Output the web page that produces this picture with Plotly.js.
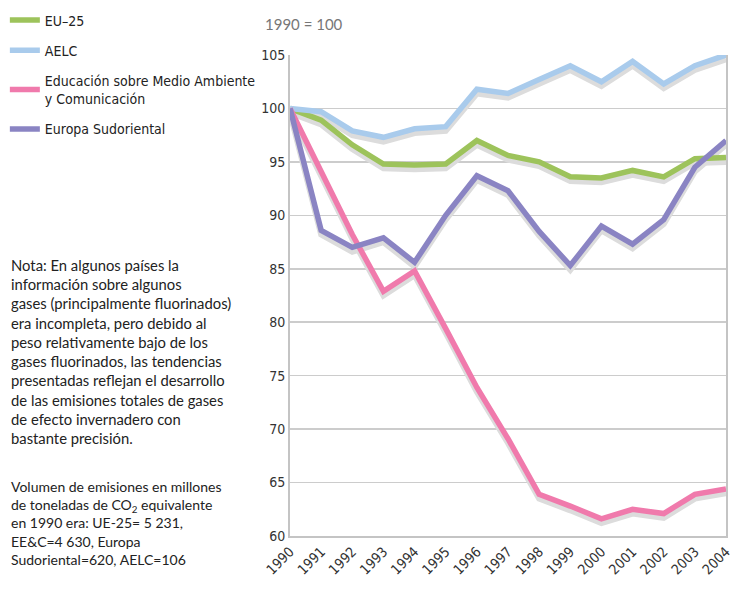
<!DOCTYPE html>
<html><head><meta charset="utf-8">
<script src="https://cdn.plot.ly/plotly-3.0.1.min.js"></script>
<style>body{margin:0;background:#fff}#chart{width:730px;height:591px}</style>
</head><body><div id="chart"></div>
<script>
const years = ['1990','1991','1992','1993','1994','1995','1996','1997','1998','1999','2000','2001','2002','2003','2004'];
const eu25 = [100, 98.9, 96.6, 94.8, 94.7, 94.8, 97.0, 95.6, 95.0, 93.6, 93.5, 94.2, 93.6, 95.3, 95.4];
const aelc = [100, 99.7, 97.9, 97.3, 98.1, 98.3, 101.8, 101.4, 102.7, 104.0, 102.5, 104.4, 102.3, 104.0, 105.0];
const eeca = [100, 94.0, 88.2, 82.9, 84.8, 79.4, 73.9, 69.1, 63.9, 62.8, 61.6, 62.5, 62.1, 63.9, 64.4];
const see  = [100, 88.6, 87.0, 87.9, 85.6, 90.0, 93.7, 92.3, 88.5, 85.3, 89.0, 87.3, 89.6, 94.5, 97.0];
const names = ['EU\u201325', 'AELC', 'Educación sobre Medio Ambiente<br>y Comunicación', 'Europa Sudoriental'];
const colors = ['#9dc35b', '#a9cbec', '#f07aac', '#8a84c3'];
const series = [eu25, aelc, eeca, see];

const traces = [];
series.forEach((s, i) => {
  traces.push({x: years, y: s, type: 'scatter', mode: 'lines', yaxis: 'y',
    line: {color: '#dcdcdc', width: 6}, showlegend: false, hoverinfo: 'skip'});
});
series.forEach((s, i) => {
  traces.push({x: years, y: s, type: 'scatter', mode: 'lines', name: names[i], yaxis: 'y2',
    legendgroup: 'g' + i, line: {color: colors[i], width: 5.5}});
});

const cond = 'DejaVu Sans Condensed, Liberation Sans Narrow, sans-serif';
const tickFont = {family: cond, size: 14, color: '#333'};
const layout = {
  width: 730, height: 591,
  margin: {l: 290, r: 4, t: 53, b: 55},
  paper_bgcolor: '#fff', plot_bgcolor: '#fff',
  showlegend: true,
  legend: {x: -0.654, xanchor: 'left', y: 1.105, yanchor: 'top', traceorder: 'grouped',
    tracegroupgap: 9, font: {family: cond, size: 14, color: '#222'},
    bgcolor: 'rgba(0,0,0,0)'},
  xaxis: {type: 'category', range: [0, 14], showgrid: false, tickangle: -45, tickfont: tickFont,
    showline: true, linecolor: '#c4c4c4', linewidth: 2, ticks: '', zeroline: false},
  yaxis: {range: [60.4, 105.4], visible: false, showgrid: false, zeroline: false},
  yaxis2: {range: [60, 105], dtick: 5, overlaying: 'y', side: 'left', showgrid: true, gridcolor: '#cccccc', gridwidth: 1.5,
    showline: true, mirror: true, linecolor: '#c4c4c4', linewidth: 2, ticks: '', tickfont: tickFont, zeroline: false},
  annotations: [
    {xref: 'paper', yref: 'paper', x: -0.062, y: 1.088, xanchor: 'left', yanchor: 'top', showarrow: false,
     text: '1990 = 100', font: {family: 'Lato, sans-serif', size: 15, color: '#777'}},
    {xref: 'paper', yref: 'paper', x: -0.645, y: 0.586, xanchor: 'left', yanchor: 'top', showarrow: false, align: 'left',
     text: 'Nota: En algunos países la<br>información sobre algunos<br>gases (principalmente fluorinados)<br>era incompleta, pero debido al<br>peso relativamente bajo de los<br>gases fluorinados, las tendencias<br>presentadas reflejan el desarrollo<br>de las emisiones totales de gases<br>de efecto invernadero con<br>bastante precisión.',
     font: {family: 'Lato, sans-serif', size: 14.8, color: '#222'}},
    {xref: 'paper', yref: 'paper', x: -0.645, y: 0.124, xanchor: 'left', yanchor: 'top', showarrow: false, align: 'left',
     text: 'Volumen de emisiones en millones<br>de toneladas de CO<sub>2</sub> equivalente<br>en 1990 era: UE-25= 5 231,<br>EE&C=4 630, Europa<br>Sudoriental=620, AELC=106',
     font: {family: 'Lato, sans-serif', size: 14, color: '#222'}}
  ]
};
Plotly.newPlot('chart', traces, layout, {displayModeBar: false, staticPlot: true});
</script></body></html>
